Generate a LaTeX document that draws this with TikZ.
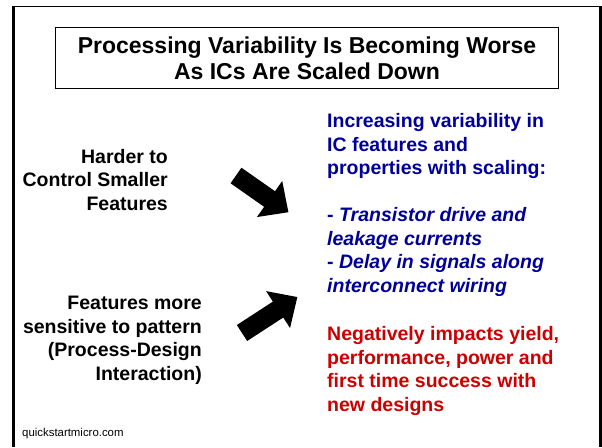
\documentclass[tikz,border=0pt]{standalone}
\usepackage{fontspec}
\setmainfont{Liberation Sans}
\definecolor{icblue}{RGB}{0,0,153}
\definecolor{icred}{RGB}{204,0,0}
\begin{document}
\begin{tikzpicture}[x=1pt,y=-1pt,
  bodytext/.style={inner sep=0pt, font=\bfseries\fontsize{19.5}{23.5}\selectfont},
  titlebox/.style={draw, line width=1pt, inner sep=0pt, align=center,
    minimum width=503pt, minimum height=61pt,
    font=\bfseries\fontsize{23}{26}\selectfont},
  blockarrow/.style={fill=black}]
\useasboundingbox (0,0) rectangle (602,447);
\fill[white] (0,0) rectangle (602,447);

% slide frame
\draw[line width=1.3pt] (13.5,6.7) -- (600,6.7);
\draw[line width=3.5pt] (13.5,6.05) -- (13.5,447);
\draw[line width=3pt] (600,6.05) -- (600,447);

% title
\node[titlebox, anchor=north west] (title) at (55,27)
  {Processing Variability Is Becoming Worse\\As ICs Are Scaled Down};

% causes (anchored at the baseline of their last line)
\node[bodytext, align=right, anchor=base east] (harder) at (168,210)
  {Harder to\\Control Smaller\\Features};
\node[bodytext, align=right, anchor=base east] (pattern) at (202,380)
  {Features more\\sensitive to pattern\\(Process-Design\\Interaction)};

% block arrows
\begin{scope}[shift={(236,175.5)}, rotate=-35]
  \fill[blockarrow] (0,-9.5) -- (41,-9.5) -- (41,-22) -- (64,0) -- (41,22) -- (41,9.5) -- (0,9.5) -- cycle;
\end{scope}
\begin{scope}[shift={(242,333)}, rotate=33]
  \fill[blockarrow] (0,-9.5) -- (43,-9.5) -- (43,-22) -- (66,0) -- (43,22) -- (43,9.5) -- (0,9.5) -- cycle;
\end{scope}

% effects
\node[bodytext, align=left, anchor=base west, text=icblue] (variab) at (327,292)
  {Increasing variability in\\IC features and\\properties with scaling:\\[23.5pt]
   - \textit{Transistor drive and}\\\textit{leakage currents}\\
   - \textit{Delay in signals along}\\\textit{interconnect wiring}};
\node[bodytext, align=left, anchor=base west, text=icred] (impact) at (327,411)
  {Negatively impacts yield,\\performance, power and\\first time success with\\new designs};

% footer
\node[inner sep=0pt, anchor=base west, font=\fontsize{11.4}{13}\selectfont] (site) at (22,436)
  {quickstartmicro.com};
\end{tikzpicture}
\end{document}
